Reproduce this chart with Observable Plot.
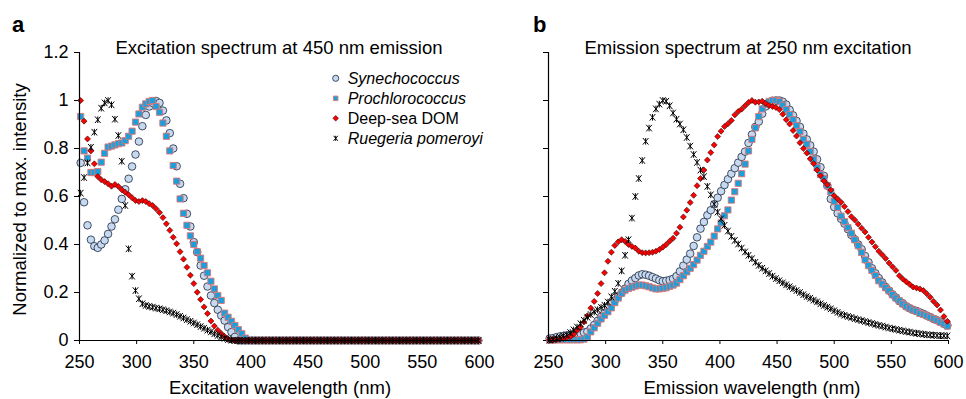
<!DOCTYPE html>
<html><head><meta charset="utf-8">
<script src="https://cdn.jsdelivr.net/npm/d3@7"></script>
<script src="https://cdn.jsdelivr.net/npm/@observablehq/plot@0.6"></script>
<style>
html,body{margin:0;padding:0;background:#fff;}
#chart{position:relative;width:966px;height:399px;display:flex;font-family:"Liberation Sans",Arial,Helvetica,sans-serif;}
#overlay{position:absolute;left:0;top:0;pointer-events:none;overflow:visible;}
</style></head><body><div id="chart"></div>
<script>
// ---------- data ----------
const wavelength = [
251,254,257,260,263,266,269,272,275,278,
281,284,287,290,293,296,299,302,305,308,
311,314,317,320,323,326,329,332,335,338,
341,344,347,350,353,356,359,362,365,368,
371,374,377,380,383,386,389,392,395,398,
401,404,407,410,413,416,419,422,425,428,
431,434,437,440,443,446,449,452,455,458,
461,464,467,470,473,476,479,482,485,488,
491,494,497,500,503,506,509,512,515,518,
521,524,527,530,533,536,539,542,545,548,
551,554,557,560,563,566,569,572,575,578,
581,584,587,590,593,596,599];

// Panel a: excitation spectra (450 nm emission)
const synA = [
0.74,0.576,0.48,0.42,0.393,0.386,0.40,0.417,0.444,0.475,
0.505,0.545,0.59,0.63,0.674,0.725,0.775,0.829,0.893,0.94,
0.975,0.99,0.998,0.99,0.958,0.917,0.864,0.80,0.726,0.653,
0.593,0.528,0.475,0.41,0.368,0.3125,0.27,0.225,0.1875,0.156,
0.128,0.104,0.083,0.056,0.035,0.015,0,0,0,0,
0,0,0,0,0,0,0,0,0,0,
0,0,0,0,0,0,0,0,0,0,
0,0,0,0,0,0,0,0,0,0,
0,0,0,0,0,0,0,0,0,0,
0,0,0,0,0,0,0,0,0,0,
0,0,0,0,0,0,0,0,0,0,
0,0,0,0,0,0,0];
const proA = [
0.933,0.79,0.76,0.70,0.70,0.704,0.743,0.78,0.806,0.81,
0.815,0.82,0.823,0.833,0.851,0.872,0.91,0.944,0.972,0.986,
0.996,1.0,0.975,0.951,0.906,0.851,0.79,0.729,0.664,0.59,
0.53,0.48,0.436,0.40,0.37,0.343,0.3125,0.282,0.247,0.215,
0.1875,0.167,0.114,0.097,0.08,0.0625,0.045,0.028,0.01,0,
0,0,0,0,0,0,0,0,0,0,
0,0,0,0,0,0,0,0,0,0,
0,0,0,0,0,0,0,0,0,0,
0,0,0,0,0,0,0,0,0,0,
0,0,0,0,0,0,0,0,0,0,
0,0,0,0,0,0,0,0,0,0,
0,0,0,0,0,0,0];
const domA = [
1.0,0.914,0.84,0.79,0.736,0.683,0.67,0.662,0.653,0.643,
0.65,0.642,0.628,0.618,0.607,0.595,0.583,0.579,0.583,0.579,
0.57,0.5625,0.549,0.533,0.512,0.486,0.459,0.43,0.403,0.37,
0.339,0.305,0.272,0.237,0.201,0.171,0.14,0.112,0.081,0.06,
0.043,0.029,0.017,0.007,0.002,0,0,0,0,0,
0,0,0,0,0,0,0,0,0,0,
0,0,0,0,0,0,0,0,0,0,
0,0,0,0,0,0,0,0,0,0,
0,0,0,0,0,0,0,0,0,0,
0,0,0,0,0,0,0,0,0,0,
0,0,0,0,0,0,0,0,0,0,
0,0,0,0,0,0,0];
const rueA = [
0.614,0.679,0.74,0.805,0.868,0.92,0.968,0.99,1.0,0.982,
0.922,0.854,0.747,0.5625,0.382,0.268,0.208,0.174,0.153,0.146,
0.142,0.139,0.135,0.132,0.128,0.124,0.119,0.114,0.108,0.101,
0.094,0.087,0.08,0.073,0.066,0.058,0.051,0.043,0.036,0.028,
0.021,0.015,0.009,0.004,0.001,0,0,0,0,0,
0,0,0,0,0,0,0,0,0,0,
0,0,0,0,0,0,0,0,0,0,
0,0,0,0,0,0,0,0,0,0,
0,0,0,0,0,0,0,0,0,0,
0,0,0,0,0,0,0,0,0,0,
0,0,0,0,0,0,0,0,0,0,
0,0,0,0,0,0,0];

// Panel b: emission spectra (250 nm excitation)
const synB = [
0.008,0.01,0.014,0.017,0.019,0.021,0.023,0.025,0.028,0.03,
0.033,0.037,0.05,0.065,0.082,0.099,0.114,0.137,0.153,0.167,
0.184,0.199,0.216,0.236,0.25,0.26,0.271,0.276,0.274,0.27,
0.264,0.258,0.251,0.247,0.249,0.252,0.257,0.268,0.288,0.312,
0.337,0.362,0.394,0.43,0.466,0.494,0.522,0.543,0.568,0.595,
0.622,0.648,0.672,0.695,0.718,0.741,0.765,0.787,0.823,0.858,
0.89,0.912,0.945,0.975,0.99,0.999,1.0,1.0,0.995,0.983,
0.961,0.938,0.915,0.89,0.862,0.838,0.813,0.787,0.755,0.722,
0.686,0.645,0.59,0.556,0.53,0.507,0.487,0.464,0.44,0.422,
0.4,0.38,0.352,0.326,0.301,0.28,0.26,0.242,0.223,0.208,
0.192,0.179,0.164,0.155,0.142,0.134,0.128,0.123,0.117,0.111,
0.104,0.097,0.09,0.084,0.078,0.07,0.063];
const proB = [
0.002,0.002,0.003,0.003,0.003,0.003,0.003,0.003,0.003,0.003,
0.006,0.015,0.036,0.053,0.072,0.09,0.105,0.12,0.136,0.158,
0.177,0.197,0.21,0.217,0.222,0.227,0.231,0.231,0.228,0.224,
0.219,0.215,0.215,0.217,0.22,0.226,0.231,0.239,0.254,0.27,
0.286,0.301,0.316,0.335,0.355,0.372,0.392,0.41,0.435,0.465,
0.49,0.52,0.544,0.585,0.62,0.655,0.695,0.735,0.79,0.838,
0.886,0.933,0.965,0.985,0.996,1.0,1.0,0.995,0.98,0.962,
0.941,0.92,0.895,0.871,0.838,0.818,0.787,0.755,0.72,0.692,
0.675,0.645,0.62,0.58,0.555,0.518,0.495,0.47,0.447,0.42,
0.395,0.367,0.336,0.312,0.292,0.271,0.249,0.235,0.22,0.207,
0.191,0.177,0.165,0.152,0.143,0.135,0.127,0.122,0.113,0.109,
0.103,0.097,0.091,0.084,0.076,0.069,0.06];
const domB = [
0.002,0.002,0.003,0.005,0.008,0.012,0.016,0.026,0.042,0.056,
0.077,0.103,0.135,0.163,0.196,0.237,0.282,0.33,0.368,0.396,
0.411,0.42,0.413,0.40,0.392,0.385,0.372,0.366,0.365,0.366,
0.368,0.372,0.379,0.389,0.40,0.414,0.426,0.447,0.472,0.515,
0.543,0.575,0.605,0.645,0.675,0.71,0.752,0.783,0.815,0.85,
0.872,0.892,0.903,0.917,0.94,0.954,0.964,0.978,0.992,1.0,
0.993,0.994,0.997,0.988,0.979,0.975,0.971,0.962,0.943,0.92,
0.902,0.875,0.852,0.824,0.8,0.781,0.757,0.737,0.71,0.686,
0.665,0.649,0.627,0.603,0.59,0.576,0.558,0.537,0.516,0.502,
0.485,0.468,0.452,0.43,0.41,0.391,0.372,0.357,0.342,0.323,
0.307,0.292,0.27,0.256,0.245,0.234,0.223,0.219,0.215,0.208,
0.195,0.18,0.163,0.148,0.127,0.10,0.08];
const rueB = [
0.002,0.005,0.009,0.013,0.019,0.024,0.033,0.044,0.056,0.07,
0.084,0.097,0.108,0.119,0.128,0.138,0.147,0.16,0.182,0.205,
0.238,0.29,0.355,0.42,0.51,0.6,0.675,0.75,0.83,0.885,
0.93,0.965,0.985,1.0,0.997,0.978,0.948,0.922,0.902,0.878,
0.846,0.81,0.775,0.742,0.71,0.683,0.642,0.607,0.568,0.535,
0.507,0.48,0.456,0.434,0.417,0.402,0.385,0.369,0.355,0.341,
0.326,0.313,0.301,0.29,0.279,0.268,0.258,0.249,0.24,0.232,
0.224,0.216,0.208,0.2,0.191,0.183,0.176,0.168,0.161,0.153,
0.146,0.139,0.132,0.124,0.117,0.11,0.105,0.1,0.096,0.091,
0.087,0.083,0.079,0.075,0.071,0.067,0.063,0.06,0.056,0.052,
0.049,0.046,0.043,0.04,0.037,0.035,0.032,0.03,0.028,0.026,
0.024,0.023,0.022,0.021,0.02,0.02,0.019];

const xTicks = [250,300,350,400,450,500,550,600];
const yTicks = [0,0.2,0.4,0.6,0.8,1,1.2];
const seriesNames = ["Synechococcus","Prochlorococcus","Deep-sea DOM","Ruegeria pomeroyi"];
const seriesItalic = [true,true,false,true];
const panelLetters = ["a","b"];
const panelTitles = ["Excitation spectrum at 450 nm emission","Emission spectrum at 250 nm excitation"];
const xLabels = ["Excitation wavelength (nm)","Emission wavelength (nm)"];
const yLabel = "Normalized to max. intensity";

// ---------- styles ----------
const FONT = '"Liberation Sans", Arial, Helvetica, sans-serif';
const asterisk = {
  draw(ctx, size) {
    const r = Math.sqrt(size / Math.PI), w = r * 0.85;
    ctx.moveTo(-w, -r); ctx.lineTo(w, r);
    ctx.moveTo(w, -r); ctx.lineTo(-w, r);
    ctx.moveTo(0, -r); ctx.lineTo(0, r);
  }
};
const styles = [
  {symbol: "circle", r: 3.8, fill: "#c6d9ef", stroke: "#1a2740", strokeWidth: 0.8},
  {symbol: "square", r: 3.5, fill: "#19a0dc", stroke: "#e07575", strokeWidth: 0.9},
  {symbol: "diamond2", r: 2.7, fill: "#ff0000", stroke: "#2a0000", strokeWidth: 0.6},
  {symbol: asterisk, r: 3.3, fill: "none", stroke: "#000", strokeWidth: 1}
];

function panel(series, showYLabels, ml, mr) {
  return Plot.plot({
    width: 483, height: 399,
    marginLeft: ml, marginRight: mr, marginTop: 52, marginBottom: 59,
    style: {fontFamily: FONT, fontSize: "18px", color: "#000", background: "transparent", overflow: "visible"},
    x: {domain: [250, 600]},
    y: {domain: [0, 1.2]},
    marks: [
      Plot.axisX({ticks: xTicks, tickSize: 4, tickPadding: 11, label: null, fontSize: 18, stroke: "#000"}),
      Plot.axisY({ticks: yTicks, tickSize: 5, tickPadding: 6, label: null, fontSize: 18, stroke: "#000",
        tickFormat: showYLabels ? (d => String(d)) : (() => "")}),
      ...series.map((s, i) => Plot.dot(s, {x: wavelength, y: s, ...styles[i]})),
      Plot.ruleX([250], {stroke: "#000", strokeWidth: 1.2}),
      Plot.ruleY([0], {stroke: "#000", strokeWidth: 1.2})
    ]
  });
}

const chart = document.getElementById("chart");
chart.appendChild(panel([synA, proA, domA, rueA], true, 79, 4));
chart.appendChild(panel([synB, proB, domB, rueB], false, 65, 18));

// ---------- text overlay ----------
const ov = d3.select(chart).append("svg").attr("id", "overlay")
  .attr("width", 966).attr("height", 399).attr("font-family", FONT);
function txt(x, y, s, size, o = {}) {
  return ov.append("text").attr("x", x).attr("y", y).attr("font-size", size)
    .attr("text-anchor", o.anchor || "start")
    .attr("font-weight", o.weight || "normal")
    .attr("font-style", o.italic ? "italic" : "normal")
    .attr("fill", "#000").text(s);
}
txt(12, 32, panelLetters[0], 22, {weight: "bold"});
txt(533, 32, panelLetters[1], 22, {weight: "bold"});
txt(279, 54, panelTitles[0], 18.5, {anchor: "middle"});
txt(748, 54, panelTitles[1], 18.5, {anchor: "middle"});
txt(280, 394, xLabels[0], 18.5, {anchor: "middle"});
txt(752, 394, xLabels[1], 18.5, {anchor: "middle"});
ov.append("text").attr("transform", "translate(26,199.5) rotate(-90)")
  .attr("text-anchor", "middle").attr("font-size", 18.5).attr("fill", "#000").text(yLabel);

// legend
const legSyms = [d3.symbolCircle, d3.symbolSquare, d3.symbolDiamond2, asterisk];
const legSize = [30, 20, 20, 20];
seriesNames.forEach((name, i) => {
  const cy = 78.3 + i * 20;
  const st = styles[i];
  ov.append("path").attr("transform", `translate(335.7,${cy})`)
    .attr("d", d3.symbol(legSyms[i], legSize[i])())
    .attr("fill", st.fill).attr("stroke", st.stroke).attr("stroke-width", st.strokeWidth);
  txt(347.7, cy + 5.7, name, 16, {italic: seriesItalic[i]});
});
</script>
</body></html>
